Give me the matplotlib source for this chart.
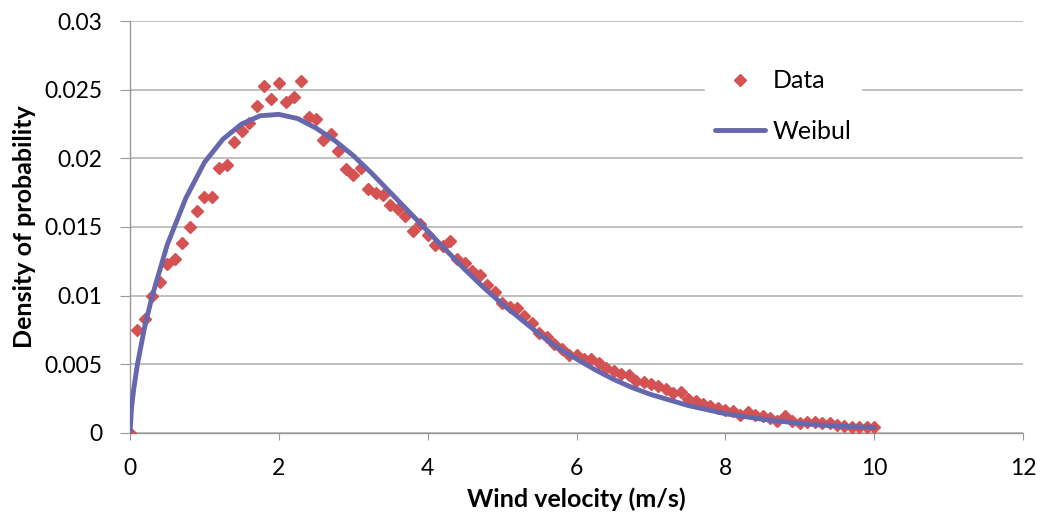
import matplotlib
matplotlib.use("Agg")
import matplotlib.pyplot as plt

# Observed data (bin probability, 0.1 m/s spacing)
data_v = [round(i * 0.1, 1) for i in range(101)]
data_p = [
    0.0000, 0.0075, 0.0083, 0.0100, 0.0110, 0.0123, 0.0127, 0.0138, 0.0150, 0.0162,
    0.0172, 0.0172, 0.0193, 0.0195, 0.0212, 0.0220, 0.0226, 0.0238, 0.0253, 0.0243,
    0.0255, 0.0241, 0.0245, 0.0256, 0.0230, 0.0229, 0.0213, 0.0218, 0.0205, 0.0192,
    0.0188, 0.0193, 0.0178, 0.0175, 0.0173, 0.0166, 0.0163, 0.0158, 0.0147, 0.0152,
    0.0144, 0.0137, 0.0136, 0.0140, 0.0127, 0.0124, 0.0118, 0.0115, 0.0108, 0.0103,
    0.0095, 0.0092, 0.0091, 0.0085, 0.0080, 0.0073, 0.0070, 0.0065, 0.0061, 0.0057,
    0.0057, 0.0054, 0.0054, 0.0051, 0.0047, 0.0045, 0.0043, 0.0042, 0.0038, 0.0037,
    0.0036, 0.0034, 0.0032, 0.0029, 0.0030, 0.0025, 0.0023, 0.0021, 0.0020, 0.0018,
    0.0017, 0.0016, 0.0013, 0.0015, 0.0013, 0.0012, 0.0011, 0.0009, 0.0012, 0.0009,
    0.0007, 0.0008, 0.0008, 0.0007, 0.0007, 0.0006, 0.0005, 0.0004, 0.0004, 0.0004,
    0.0004,
]

# Fitted Weibull curve
weib_v = [0, 0.02, 0.05, 0.1, 0.2, 0.3, 0.5, 0.75, 1.0, 1.25, 1.5, 1.75, 2.0, 2.25,
          2.5, 2.75, 3.0, 3.25, 3.5, 3.75, 4.0, 4.25, 4.5, 4.75, 5.0, 5.25, 5.5,
          5.75, 6.0, 6.25, 6.5, 6.75, 7.0, 7.25, 7.5, 7.75, 8.0, 8.5, 9.0, 9.5, 10.0]
weib_p = [0.0, 0.0018, 0.0032, 0.0050, 0.0078, 0.0100, 0.0137, 0.0171, 0.0197, 0.0214,
          0.0225, 0.0231, 0.0232, 0.0229, 0.0222, 0.0213, 0.0202, 0.0189, 0.0175,
          0.0161, 0.0147, 0.0133, 0.0119, 0.0106, 0.0094, 0.0083, 0.0072, 0.0062,
          0.0054, 0.0046, 0.0039, 0.0033, 0.0028, 0.0024, 0.0020, 0.0017, 0.0014,
          0.0010, 0.0007, 0.0005, 0.0004]

x_ticks = [0, 2, 4, 6, 8, 10, 12]
y_ticks = [0, 0.005, 0.01, 0.015, 0.02, 0.025, 0.03]
y_labels = ["0", "0.005", "0.01", "0.015", "0.02", "0.025", "0.03"]

plt.rcParams['font.family'] = ['Lato', 'DejaVu Sans']

fig = plt.figure(figsize=(10.4, 5.16), dpi=100)
ax = fig.add_axes([0.125, 0.1609, 0.8587, 0.7984])

ax.plot(data_v, data_p, linestyle='none', marker='D', markersize=6.5,
        color='#d55252', label='Data', zorder=3)
ax.plot(weib_v, weib_p, color='#6767ad', linewidth=3.5, label='Weibul',
        zorder=4, solid_capstyle='round')

ax.set_xlim(0, 12)
ax.set_ylim(0, 0.03)
ax.set_xticks(x_ticks)
ax.set_xticklabels([str(t) for t in x_ticks])
ax.set_yticks(y_ticks)
ax.set_yticklabels(y_labels)
ax.tick_params(axis='both', labelsize=16.5, color='#999999')
ax.tick_params(axis='x', length=5, pad=13)
ax.tick_params(axis='y', length=7, pad=13)

ax.grid(axis='y', color='#b5b5b5', linewidth=1.2, zorder=0)
ax.set_axisbelow(True)
for s in ['top', 'right']:
    ax.spines[s].set_visible(False)
for s in ['left', 'bottom']:
    ax.spines[s].set_color('#999999')
    ax.spines[s].set_linewidth(1.0)

ax.set_xlabel('Wind velocity (m/s)', fontsize=18, fontweight='bold', labelpad=6)
ax.set_ylabel('Density of probability', fontsize=18, fontweight='bold', labelpad=6)

leg = ax.legend(loc='upper left', bbox_to_anchor=(0.63, 0.937), frameon=True,
                fontsize=18, handlelength=2.0, handletextpad=0.3,
                labelspacing=1.1, borderpad=0.4, fancybox=False)
leg.get_frame().set_edgecolor('white')
leg.get_frame().set_facecolor('white')
leg.get_frame().set_alpha(1.0)

fig.savefig('out.png', dpi=100, facecolor='white')
